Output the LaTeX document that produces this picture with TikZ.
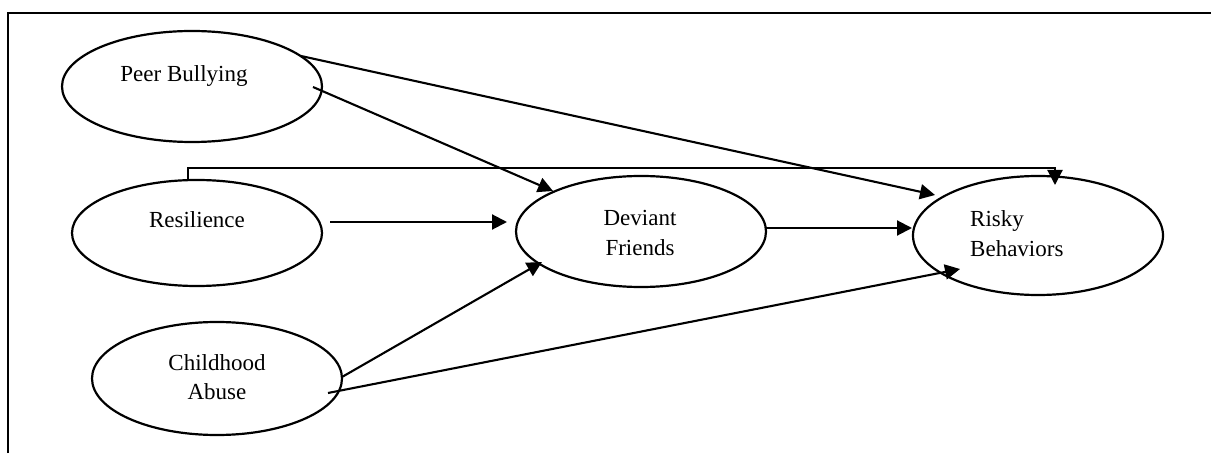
\documentclass[tikz,border=0pt]{standalone}
\usepackage{fontspec}
\setmainfont{Liberation Serif}
\usetikzlibrary{arrows.meta,shapes.geometric}
\begin{document}
\begin{tikzpicture}[x=1pt,y=1pt,
  oval/.style={ellipse,draw,line width=2.2pt,inner sep=0pt,outer sep=0pt},
  lbl/.style={font=\fontsize{23}{30}\selectfont,inner sep=0pt,anchor=base},
  link/.style={line width=2.1pt,-{Triangle[length=15pt,width=15pt]}}]
\useasboundingbox (0,0) rectangle (1211,453);
\draw[line width=2.1pt] (8,0) -- (8,440) -- (1211,440);
% ellipses
\node[oval,minimum width=260pt,minimum height=111pt] (pb) at (192,366.5) {};
\node[oval,minimum width=250pt,minimum height=106pt] (res) at (197,220) {};
\node[oval,minimum width=250pt,minimum height=113pt] (ca) at (217,74.5) {};
\node[oval,minimum width=250pt,minimum height=111pt] (df) at (641,221.5) {};
\node[oval,minimum width=250pt,minimum height=119pt] (rb) at (1038,217.5) {};
% labels
\node[lbl] (pbt) at (184,371) {Peer Bullying};
\node[lbl] (rest) at (197,225) {Resilience};
\node[lbl] (cat1) at (217,82) {Childhood};
\node[lbl] (cat2) at (217,54) {Abuse};
\node[lbl] (dft1) at (640,227) {Deviant};
\node[lbl] (dft2) at (640,197) {Friends};
\node[lbl,anchor=base west] (rbt1) at (970,226) {Risky};
\node[lbl,anchor=base west] (rbt2) at (970,196) {Behaviors};
% connectors
\draw[link] ([xshift=109pt,yshift=30.5pt]pb.center) -- ([xshift=-103pt,yshift=40.5pt]rb.center);
\draw[link] ([xshift=121pt,yshift=-0.5pt]pb.center) -- ([xshift=-88pt,yshift=40.5pt]df.center);
\draw[link] ([xshift=-9pt,yshift=53pt]res.center) -- ++(0,12) -| ([xshift=17pt,yshift=50.5pt]rb.center);
\draw[link] ([xshift=133pt,yshift=11pt]res.center) -- ([xshift=-134pt,yshift=9.5pt]df.center);
\draw[link] ([xshift=125pt,yshift=3.5pt]df.center) -- ([xshift=-126pt,yshift=7.5pt]rb.center);
\draw[link] ([xshift=125pt,yshift=1.5pt]ca.center) -- ([xshift=-99pt,yshift=-30.5pt]df.center);
\draw[link] ([xshift=111pt,yshift=-14.5pt]ca.center) -- ([xshift=-78pt,yshift=-33.5pt]rb.center);
\end{tikzpicture}
\end{document}
